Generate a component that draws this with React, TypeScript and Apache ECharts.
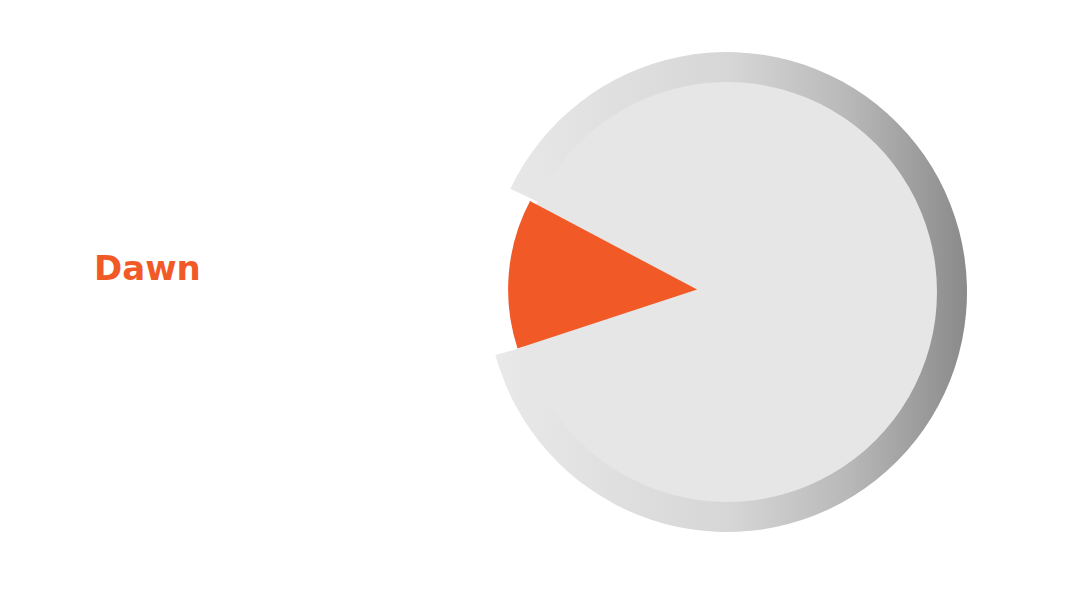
import * as echarts from 'echarts'
import { useEffect, useRef } from 'react'

// share of the day, in percent
const categories = ['Dawn', 'Rest of day']
// the orange wedge that is pulled out
const sliceValues = [12.8, 87.2]
// the grey dial, with its notch where the wedge was
const ringValues = [11.3, 88.7]
const highlighted = 'Dawn'

const ORANGE = '#f15a27'

const App = () => {
	const chartRef = useRef<HTMLDivElement>(null)

	useEffect(() => {
		document.body.style.margin = '0'
		const myChart = echarts.init(chartRef.current, null, { renderer: 'svg' })

		const center = [727, 292]

		const ringData = categories.map((name, i) => ({
			name,
			value: ringValues[i],
			itemStyle:
				name === highlighted
					? { color: 'transparent' }
					: {
							color: new echarts.graphic.LinearGradient(0, 0, 1, 0, [
								{ offset: 0, color: '#e9e9e9' },
								{ offset: 0.5, color: '#d6d6d6' },
								{ offset: 0.75, color: '#b8b8b8' },
								{ offset: 1, color: '#8a8a8a' },
							]),
						},
		}))

		const sliceData = categories.map((name, i) => ({
			name,
			value: sliceValues[i],
			selected: name === highlighted,
			itemStyle: { color: name === highlighted ? ORANGE : 'transparent' },
		}))

		const common = {
			type: 'pie',
			center,
			clockwise: true,
			label: { show: false },
			labelLine: { show: false },
			itemStyle: { borderWidth: 0 },
			emphasis: { disabled: true },
			silent: true,
		}

		const option = {
			animation: false,
			graphic: [
				{
					type: 'text',
					left: 94,
					top: 251,
					style: {
						text: highlighted,
						fill: ORANGE,
						fontSize: 34,
						fontWeight: 'bold',
						fontFamily: 'DejaVu Sans',
					},
				},
			],
			series: [
				{
					...common,
					name: 'ring',
					radius: 240,
					startAngle: 195.2,
					data: ringData,
				},
				{
					...common,
					name: 'face',
					radius: 210,
					data: [{ name: 'face', value: 1, itemStyle: { color: '#e6e6e6' } }],
				},
				{
					...common,
					name: 'slice',
					radius: 189,
					startAngle: 198.2,
					selectedMode: 'single',
					selectedOffset: 30,
					data: sliceData,
				},
			],
		}

		myChart.setOption(option)

		return () => {
			myChart.dispose()
		}
	}, [])

	return <div ref={chartRef} style={{ width: '1080px', height: '592px' }} />
}

export default App
